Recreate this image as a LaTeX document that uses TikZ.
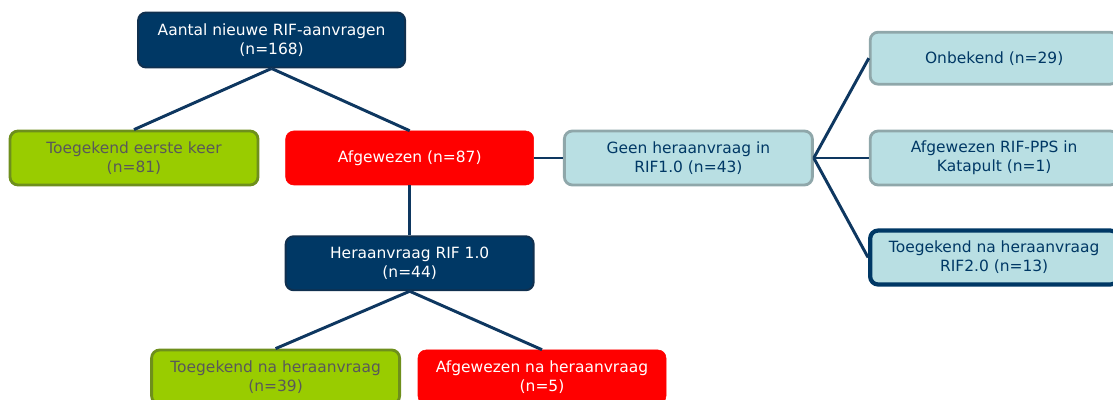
\documentclass[tikz,border=0pt]{standalone}
\usepackage{fontspec}
\setmainfont{DejaVu Sans}
\usepackage{xcolor}
\definecolor{colorNavy}{HTML}{003865}
\definecolor{colorNavyBorder}{HTML}{10304F}
\definecolor{colorGreen}{HTML}{99CC00}
\definecolor{colorGreenBorder}{HTML}{6E8F1C}
\definecolor{colorRed}{HTML}{FF0000}
\definecolor{colorLight}{HTML}{B9DFE3}
\definecolor{colorLightBorder}{HTML}{8FA7AA}
\definecolor{colorGreyText}{HTML}{595959}
\definecolor{colorLink}{HTML}{0E3760}
\usepackage{tikz}
\usetikzlibrary{positioning}
\tikzset{box/.style={rectangle, rounded corners=0.2cm, minimum width=6.2cm, minimum height=1.35cm, align=center, inner sep=2pt, font=\fontsize{11}{13.5}\selectfont}}
\tikzset{navybox/.style={box, fill=colorNavy, draw=colorNavyBorder, line width=1.4pt, text=white}}
\tikzset{greenbox/.style={box, fill=colorGreen, draw=colorGreenBorder, line width=2pt, text=colorGreyText}}
\tikzset{redbox/.style={box, fill=colorRed, draw=colorRed, text=white}}
\tikzset{lightbox/.style={box, fill=colorLight, draw=colorLightBorder, line width=2pt, text=colorNavy}}

\begin{document}
\begin{tikzpicture}[link/.style={draw=colorLink, line width=2.1pt}]
\clip (0,0) rectangle (27.825,-10);
\node[navybox, minimum width=6.675cm, minimum height=1.375cm] (tot) at (6.79,-1.0) {Aantal nieuwe RIF-aanvragen\\(n=168)};
\node[greenbox] (toek1) at (3.35,-3.95) {Toegekend eerste keer\\(n=81)};
\node[redbox, right=0.65cm of toek1] (afw) {Afgewezen (n=87)};
\node[lightbox, right=0.725cm of afw] (geen) {Geen heraanvraag in\\RIF1.0 (n=43)};
\node[lightbox, right=1.375cm of geen] (pps) {Afgewezen RIF-PPS in\\Katapult (n=1)};
\node[lightbox, minimum height=1.3cm, above=1.1cm of pps] (onb) {Onbekend (n=29)};
\node[lightbox, draw=colorNavy, line width=3pt, below=1.05cm of pps] (rif2) {Toegekend na heraanvraag\\RIF2.0 (n=13)};
\node[navybox, below=1.25cm of afw] (her) {Heraanvraag RIF 1.0\\(n=44)};
\node[greenbox] (toek2) at (6.89,-9.425) {Toegekend na heraanvraag\\(n=39)};
\node[redbox] (afw2) at (13.55,-9.425) {Afgewezen na heraanvraag\\(n=5)};
% verbindingen
\draw[link] (tot.south) -- (toek1.north);
\draw[link] (tot.south) -- (afw.north);
\draw[link] (afw.east) -- (geen.west);
\draw[link] (afw.south) -- (her.north);
\draw[link] (her.south) -- (toek2.north);
\draw[link] (her.south) -- (afw2.north);
\draw[link] (geen.east) -- (onb.west);
\draw[link] (geen.east) -- (pps.west);
\draw[link] (geen.east) -- (rif2.west);
\end{tikzpicture}
\end{document}
